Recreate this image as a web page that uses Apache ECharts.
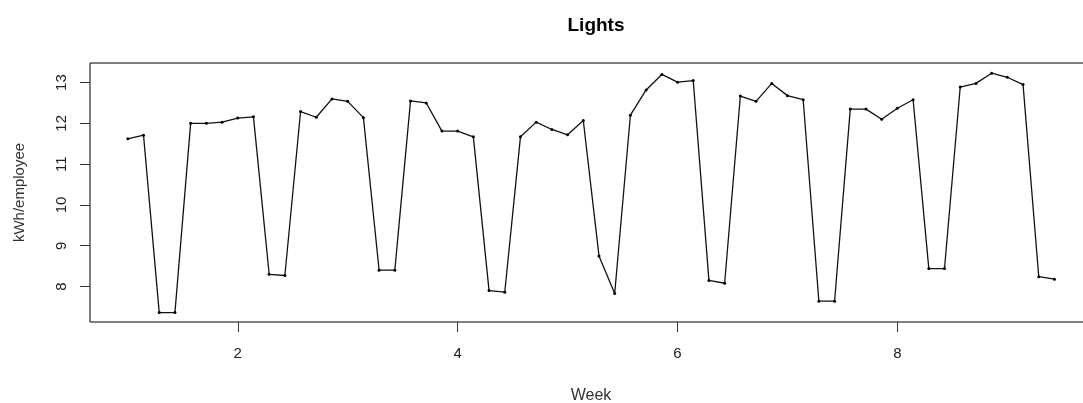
<!DOCTYPE html>
<html>
<head>
<meta charset="utf-8">
<script src="https://cdn.jsdelivr.net/npm/echarts@6/dist/echarts.min.js"></script>
<style>html,body{margin:0;padding:0;background:#fff;}#c{width:1083px;height:403px;}</style>
</head>
<body>
<div id="c"></div>
<script>
// Week (daily points, step 1/7 week)
const startWeek = 1;
const daysPerWeek = 7;
const kwhPerEmployee = [
  11.62, 11.71, 7.36, 7.36, 12.00, 12.00, 12.03, 12.13, 12.16, 8.30,
  8.27, 12.29, 12.15, 12.60, 12.54, 12.14, 8.40, 8.40, 12.55, 12.50,
  11.81, 11.81, 11.67, 7.90, 7.86, 11.67, 12.03, 11.85, 11.72, 12.07,
  8.75, 7.83, 12.20, 12.82, 13.20, 13.01, 13.05, 8.15, 8.08, 12.67,
  12.54, 12.98, 12.68, 12.58, 7.64, 7.64, 12.35, 12.35, 12.10, 12.37,
  12.58, 8.44, 8.44, 12.89, 12.98, 13.23, 13.13, 12.95, 8.24, 8.18
];
const xTicks = [2, 4, 6, 8];
const yTicks = [8, 9, 10, 11, 12, 13];

const data = kwhPerEmployee.map((v, i) => [startWeek + i / daysPerWeek, v]);

const font = 'Liberation Sans, Arial, sans-serif';
const chart = echarts.init(document.getElementById('c'), null, {renderer: 'canvas'});
chart.setOption({
  animation: false,
  backgroundColor: '#fff',
  title: {
    text: 'Lights', left: 591, top: 11, textAlign: 'center',
    textStyle: {fontFamily: font, fontSize: 19, fontWeight: 'bold', color: '#000'}
  },
  grid: {
    left: 90, top: 63, right: -9, height: 259,
    outerBoundsMode: 'none', containLabel: false,
    show: true, borderColor: '#000', borderWidth: 1, backgroundColor: 'transparent'
  },
  xAxis: {
    type: 'value', min: 0.656, max: 9.77,
    name: 'Week', nameLocation: 'middle', nameGap: 66,
    nameTextStyle: {fontFamily: font, fontSize: 16, color: '#333'},
    axisLine: {show: false},
    splitLine: {show: false},
    axisTick: {show: true, length: 10, customValues: xTicks, lineStyle: {color: '#333'}},
    axisLabel: {customValues: xTicks, margin: 24, fontFamily: font, fontSize: 15, color: '#222'}
  },
  yAxis: {
    type: 'value', min: 7.13, max: 13.48,
    name: 'kWh/employee', nameLocation: 'middle', nameGap: 63, nameRotate: 90,
    nameTextStyle: {fontFamily: font, fontSize: 15, color: '#333'},
    axisLine: {show: false},
    splitLine: {show: false},
    axisTick: {show: true, length: 10, customValues: yTicks, lineStyle: {color: '#333'}},
    axisLabel: {customValues: yTicks, rotate: 90, margin: 21, fontFamily: font, fontSize: 15, color: '#222'}
  },
  series: [{
    type: 'line', data: data,
    symbol: 'circle', symbolSize: 3,
    itemStyle: {color: '#000'},
    lineStyle: {color: '#111', width: 1.3}
  }]
});
</script>
</body>
</html>
